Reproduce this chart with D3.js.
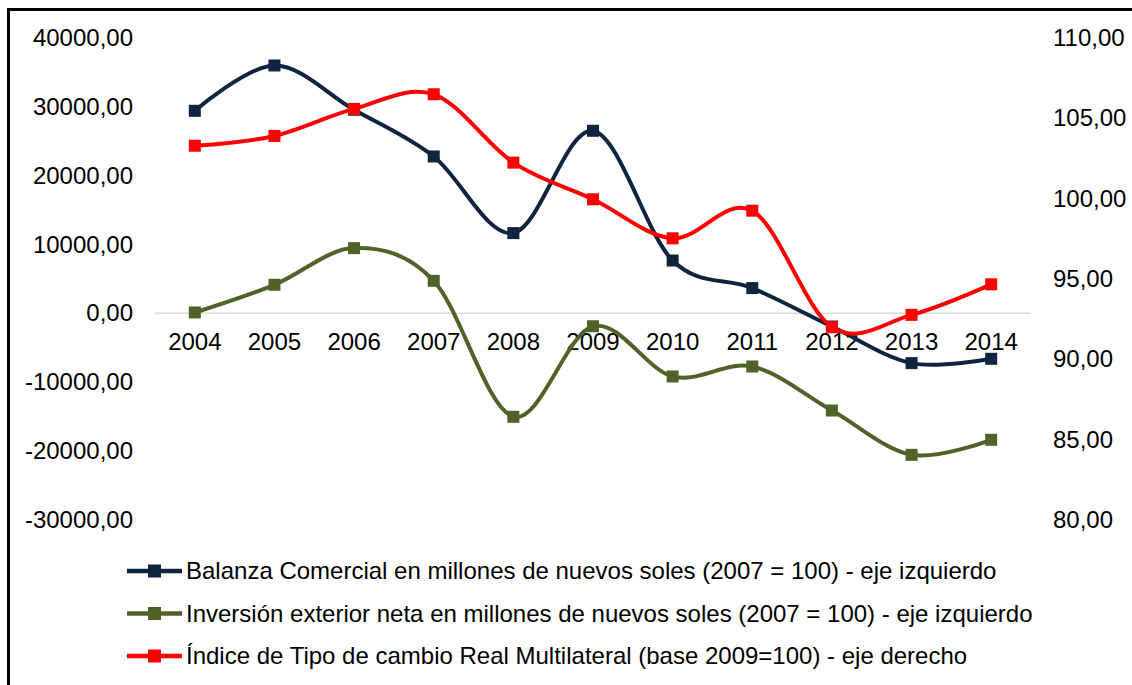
<!DOCTYPE html>
<html>
<head>
<meta charset="utf-8">
<script src="https://cdn.jsdelivr.net/npm/d3@7"></script>
<style>
  html, body { margin: 0; padding: 0; background: #fff; }
  svg { display: block; font-family: "Liberation Sans", Arial, sans-serif; }
</style>
</head>
<body>
<svg id="chart" width="1132" height="685"></svg>
<script>
const years = ["2004","2005","2006","2007","2008","2009","2010","2011","2012","2013","2014"];
const balanza = [29390, 35970, 29540, 22760, 11640, 26490, 7660, 3660, -1920, -7230, -6600];
const inversion = [120, 4140, 9460, 4720, -15020, -1880, -9170, -7720, -14110, -20540, -18360];
const indice = [103.28, 103.89, 105.57, 106.48, 102.23, 99.95, 97.52, 99.24, 91.99, 92.76, 94.66];
const leftTicks = [40000, 30000, 20000, 10000, 0, -10000, -20000, -30000];
const rightTicks = [110, 105, 100, 95, 90, 85, 80];
const seriesNames = [
  "Balanza Comercial en millones de nuevos soles (2007 = 100) - eje izquierdo",
  "Inversión exterior neta en millones de nuevos soles (2007 = 100) - eje izquierdo",
  "Índice de Tipo de cambio Real Multilateral (base 2009=100) - eje derecho"
];
const seriesColors = ["#0f243e", "#4f6228", "#ff0000"];

const svg = d3.select("#chart");
const fontSize = 24;
const ff = "Liberation Sans, Arial, sans-serif";

// border (top and left visible)
svg.append("rect").attr("x", 8.5).attr("y", 9.5).attr("width", 1140).attr("height", 700)
  .attr("fill", "none").attr("stroke", "#000").attr("stroke-width", 3);

const x = d3.scaleBand().domain(years).range([155, 1031]);
const yL = d3.scaleLinear().domain([-30000, 40000]).range([520, 37.7]);
const yR = d3.scaleLinear().domain([80, 110]).range([520, 37.7]);
const fmt = v => (v < 0 ? "-" : "") + Math.abs(v).toFixed(2).replace(".", ",");

// zero / category axis line
svg.append("line").attr("x1", x.range()[0]).attr("x2", x.range()[1])
  .attr("y1", yL(0)).attr("y2", yL(0)).attr("stroke", "#d9d9d9").attr("stroke-width", 1.5);

// left axis
const gL = svg.append("g").attr("transform", "translate(141,0)")
  .call(d3.axisLeft(yL).tickValues(leftTicks).tickFormat(fmt).tickSize(0).tickPadding(8));
gL.select(".domain").remove();
gL.selectAll("text").attr("font-size", fontSize).attr("fill", "#000").attr("font-family", ff);

// right axis
const gR = svg.append("g").attr("transform", "translate(1045,0)")
  .call(d3.axisRight(yR).tickValues(rightTicks).tickFormat(fmt).tickSize(0).tickPadding(8));
gR.select(".domain").remove();
gR.selectAll("text").attr("font-size", fontSize).attr("fill", "#000").attr("font-family", ff);

// category labels
const gX = svg.append("g").attr("transform", `translate(0,${yL(0)})`)
  .call(d3.axisBottom(x).tickSize(0).tickPadding(19.5));
gX.select(".domain").remove();
gX.selectAll("text").attr("font-size", fontSize).attr("fill", "#000").attr("font-family", ff);

const cx = d => x(d) + x.bandwidth() / 2;
const curve = d3.curveCatmullRom.alpha(0);

const series = [
  { vals: balanza, y: yL, color: seriesColors[0] },
  { vals: inversion, y: yL, color: seriesColors[1] },
  { vals: indice, y: yR, color: seriesColors[2] }
];

const ms = 12;
series.forEach(s => {
  const line = d3.line().x((d, i) => cx(years[i])).y(d => s.y(d)).curve(curve);
  svg.append("path").attr("d", line(s.vals)).attr("fill", "none")
    .attr("stroke", s.color).attr("stroke-width", 4).attr("stroke-linejoin", "round").attr("stroke-linecap", "round");
  svg.append("g").selectAll("rect").data(s.vals).join("rect")
    .attr("x", (d, i) => cx(years[i]) - ms / 2)
    .attr("y", d => s.y(d) - ms / 2)
    .attr("width", ms).attr("height", ms)
    .attr("fill", s.color);
});

// legend
const legendY = [571, 613.5, 656];
const leg = svg.append("g");
seriesNames.forEach((name, i) => {
  const g = leg.append("g").attr("transform", `translate(0,${legendY[i]})`);
  g.append("line").attr("x1", 127).attr("x2", 182).attr("y1", 0).attr("y2", 0)
    .attr("stroke", seriesColors[i]).attr("stroke-width", 4.5);
  g.append("rect").attr("x", 154.5 - 6.5).attr("y", -6.5).attr("width", 13).attr("height", 13)
    .attr("fill", seriesColors[i]);
  g.append("text").attr("x", 186).attr("y", 0).attr("dy", "0.35em")
    .attr("font-size", fontSize).attr("font-family", ff).attr("fill", "#000").text(name);
});
</script>
</body>
</html>
